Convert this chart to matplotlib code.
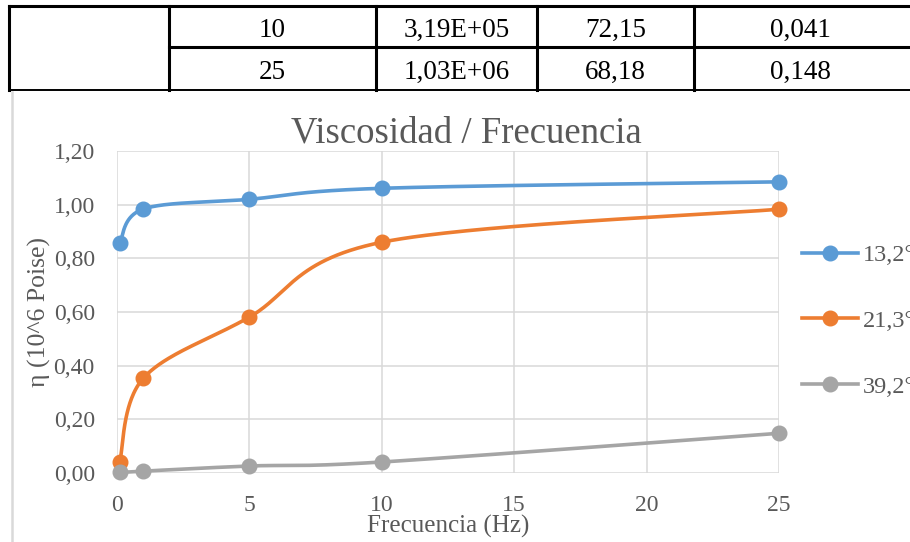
import numpy as np
import matplotlib
matplotlib.use("Agg")
import matplotlib.pyplot as plt
from matplotlib.lines import Line2D

plt.rcParams['font.family'] = ['Liberation Serif', 'DejaVu Serif']

# Frequency (Hz) and viscosity (10^6 Poise) for each temperature
freq = [0.1, 1, 5, 10, 25]
series_labels = ["13,2°C", "21,3°C", "39,2°C"]
visc_13 = [0.857, 0.984, 1.020, 1.061, 1.085]
visc_21 = [0.041, 0.354, 0.581, 0.860, 0.983]
visc_39 = [0.002, 0.007, 0.026, 0.041, 0.148]
colors = ["#5B9BD5", "#ED7D31", "#A5A5A5"]

# Rows of the data table shown above the chart
table_rows = [
    ["10", "3,19E+05", "72,15", "0,041"],
    ["25", "1,03E+06", "68,18", "0,148"],
]

x_ticks = [0, 5, 10, 15, 20, 25]
y_ticks = [0.0, 0.2, 0.4, 0.6, 0.8, 1.0, 1.2]

TXT = "#595959"
GRID = "#d9d9d9"

W, H = 910, 542
fig = plt.figure(figsize=(W / 100, H / 100), dpi=100)


def fx(px):
    return px / W


def fy(py):
    return 1 - py / H


def smooth(x, y, n=60):
    """Catmull-Rom style cubic Bezier through the points (spreadsheet smoothing)."""
    pts = np.column_stack([x, y]).astype(float)
    P = np.vstack([pts[0], pts, pts[-1]])
    out = []
    t = np.linspace(0, 1, n)[:, None]
    for i in range(len(pts) - 1):
        p0, p1, p2, p3 = P[i], P[i + 1], P[i + 2], P[i + 3]
        c1 = p1 + (p2 - p0) / 6
        c2 = p2 - (p3 - p1) / 6
        seg = ((1 - t) ** 3) * p1 + 3 * ((1 - t) ** 2) * t * c1 + 3 * (1 - t) * t ** 2 * c2 + t ** 3 * p2
        out.append(seg if i == 0 else seg[1:])
    out = np.vstack(out)
    return out[:, 0], out[:, 1]


# ---- table ----
col_edges = [9, 169, 376, 537, 694, 920]
row_edges = [6, 47, 90]
lk = dict(color="black", transform=fig.transFigure, solid_capstyle="projecting")
fig.add_artist(Line2D([fx(9), fx(920)], [fy(6), fy(6)], lw=2.2, **lk))
fig.add_artist(Line2D([fx(169), fx(920)], [fy(47), fy(47)], lw=2.2, **lk))
fig.add_artist(Line2D([fx(9), fx(920)], [fy(90), fy(90)], lw=1.4, **lk))
fig.add_artist(Line2D([fx(9), fx(9)], [fy(6), fy(90)], lw=2.2, **lk))
for cx in col_edges[1:-1]:
    fig.add_artist(Line2D([fx(cx), fx(cx)], [fy(6), fy(90)], lw=2.2, **lk))
for r, row in enumerate(table_rows):
    yc = (row_edges[r] + row_edges[r + 1]) / 2
    for c, val in enumerate(row):
        xc = (col_edges[c + 1] + col_edges[c + 2]) / 2
        if c == 3:
            xc = 800
        fig.text(fx(xc), fy(yc + 4), val, ha="center", va="center",
                 fontsize=19.5, color="black")

# chart frame edge
fig.add_artist(Line2D([fx(12), fx(12)], [fy(92), fy(545)], lw=1.8,
                      color=GRID, transform=fig.transFigure))

# ---- chart ----
ax = fig.add_axes([fx(117), fy(473), fx(779) - fx(117), fy(151) - fy(473)])
ax.set_xlim(0, 25)
ax.set_ylim(0, 1.2)
ax.set_xticks(x_ticks)
ax.set_yticks(y_ticks)
ax.set_xticklabels([str(v) for v in x_ticks])
ax.set_yticklabels([f"{v:.2f}".replace(".", ",") for v in y_ticks])
ax.grid(True, color=GRID, lw=1.1)
ax.set_axisbelow(True)
for s in ax.spines.values():
    s.set_visible(False)
ax.tick_params(length=0, labelsize=17, labelcolor=TXT)
ax.tick_params(axis="x", pad=16)
ax.tick_params(axis="y", pad=16)

for vals, col, lab in zip([visc_13, visc_21, visc_39], colors, series_labels):
    sx, sy = smooth(freq, vals)
    ax.plot(sx, sy, color=col, lw=2.6, clip_on=False, zorder=3)
    ax.plot(freq, vals, "o", color=col, ms=10.5, clip_on=False, zorder=4)

# chart title, centred over the whole chart frame
fig.text(fx(466), fy(133), "Viscosidad / Frecuencia", ha="center", va="center",
         fontsize=26.5, color=TXT)
ax.set_xlabel("Frecuencia (Hz)", fontsize=18, color=TXT, labelpad=-1)
ax.set_ylabel("η (10^6 Poise)", fontsize=18.5, color=TXT, labelpad=2)

handles = [Line2D([0], [0], color=c, lw=2.6, marker="o", ms=10.5) for c in colors]
fig.legend(handles, series_labels, loc="upper left",
           bbox_to_anchor=(fx(802), fy(244)), frameon=False, fontsize=17.5,
           labelcolor=TXT, handlelength=2.3, handletextpad=0.2,
           labelspacing=1.8, borderpad=0, borderaxespad=0)

fig.savefig("out.png", dpi=100)
